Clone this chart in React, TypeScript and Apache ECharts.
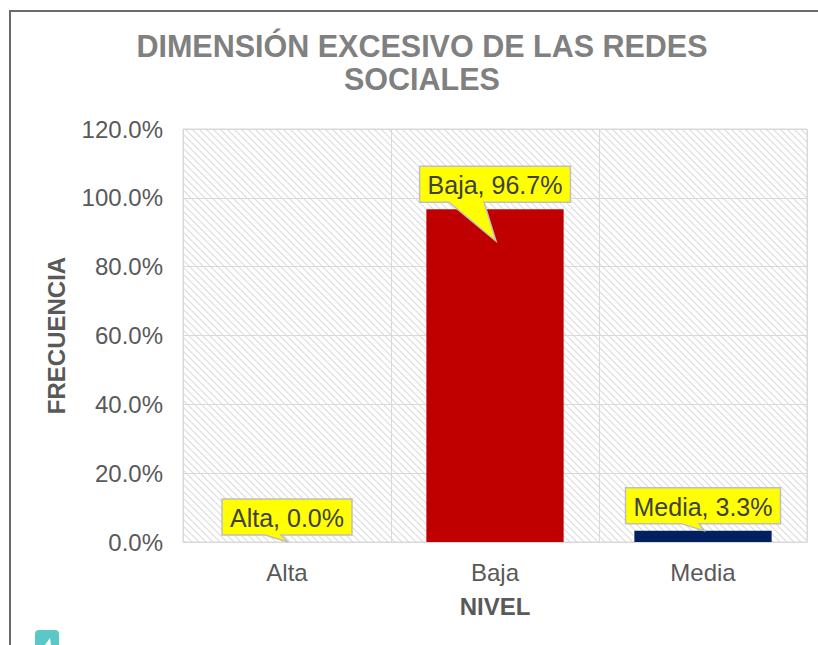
import React, { useEffect, useRef } from "react";
import * as echarts from "echarts";

// ---- data ----
const categories = ["Alta", "Baja", "Media"];
const values = [0.0, 96.7, 3.3];
const barColors = ["#4472C4", "#C00000", "#002060"];
const yMin = 0;
const yMax = 120;
const yInterval = 20;
const titleLines = ["DIMENSIÓN EXCESIVO DE LAS REDES", "SOCIALES"];
const xAxisTitle = "NIVEL";
const yAxisTitle = "FRECUENCIA";

// ---- callout layout (pixels relative to the data point) ----
const CALLOUT_TIP_DY = [0, 32, 0];
const CALLOUT_BASE = [
  [-22, -6],
  [-46, -11],
  [-22, -4],
];

const FONT = '"Liberation Sans", Arial, Helvetica, sans-serif';

function makeHatch(): HTMLCanvasElement {
  const c = document.createElement("canvas");
  const s = 7;
  c.width = s;
  c.height = s;
  const ctx = c.getContext("2d")!;
  ctx.fillStyle = "#ffffff";
  ctx.fillRect(0, 0, s, s);
  ctx.strokeStyle = "#dcdcdc";
  ctx.lineWidth = 1.1;
  ctx.beginPath();
  ctx.moveTo(-2, -2);
  ctx.lineTo(s + 2, s + 2);
  ctx.moveTo(-2, s - 2);
  ctx.lineTo(2, s + 2);
  ctx.moveTo(s - 2, -2);
  ctx.lineTo(s + 2, 2);
  ctx.stroke();
  return c;
}

export default function App() {
  const ref = useRef<HTMLDivElement>(null);

  useEffect(() => {
    if (!ref.current) return;
    const chart = echarts.init(ref.current, undefined, { renderer: "svg" });
    const measureCanvas = document.createElement("canvas");
    const mctx = measureCanvas.getContext("2d")!;
    mctx.font = `25px ${FONT}`;

    const calloutData = values.map((v, i) => [i, v]);

    const option: any = {
      animation: false,
      backgroundColor: "#ffffff",
      grid: {
        left: 183,
        right: 11,
        top: 129,
        bottom: 103,
        show: true,
        borderColor: "#d9d9d9",
        borderWidth: 1,
        backgroundColor: { image: makeHatch(), repeat: "repeat" },
      },
      xAxis: {
        type: "category",
        data: categories,
        name: xAxisTitle,
        nameLocation: "middle",
        nameGap: 52,
        nameTextStyle: { fontFamily: FONT, fontSize: 24, fontWeight: "bold", color: "#595959" },
        axisLine: { show: true, lineStyle: { color: "#d9d9d9", width: 1 } },
        axisTick: { show: false },
        axisLabel: { fontFamily: FONT, fontSize: 24, color: "#595959", margin: 18 },
        splitLine: { show: true, interval: 0, lineStyle: { color: "#d9d9d9", width: 1 } },
      },
      yAxis: {
        type: "value",
        min: yMin,
        max: yMax,
        interval: yInterval,
        name: yAxisTitle,
        nameLocation: "middle",
        nameGap: 115,
        nameTextStyle: { fontFamily: FONT, fontSize: 24, fontWeight: "bold", color: "#595959" },
        axisLine: { show: false },
        axisTick: { show: false },
        axisLabel: {
          fontFamily: FONT,
          fontSize: 24,
          color: "#595959",
          margin: 20,
          formatter: (v: number) => v.toFixed(1) + "%",
        },
        splitLine: { show: true, lineStyle: { color: "#d9d9d9", width: 1 } },
      },
      series: [
        {
          type: "bar",
          data: values.map((v, i) => ({ value: v, itemStyle: { color: barColors[i] } })),
          barCategoryGap: "34%",
          z: 2,
        },
        {
          type: "custom",
          coordinateSystem: "cartesian2d",
          data: calloutData,
          encode: { x: 0, y: 1 },
          clip: false,
          z: 5,
          renderItem: (params: any, api: any) => {
            const i = api.value(0);
            const v = api.value(1);
            const pt = api.coord([i, v]);
            const ax = pt[0];
            const ay = pt[1];
            const text = `${categories[i]}, ${Number(v).toFixed(1)}%`;
            const w = mctx.measureText(text).width + 16;
            const h = 36;
            const B = ay - 7;
            const T = B - h;
            const L = ax - w / 2;
            const R = ax + w / 2;
            const base = CALLOUT_BASE[i];
            const tipX = ax + 1;
            const tipY = ay + CALLOUT_TIP_DY[i];
            const points = [
              [L, T],
              [R, T],
              [R, B],
              [ax + base[1], B],
              [tipX, tipY],
              [ax + base[0], B],
              [L, B],
            ];
            return {
              type: "group",
              children: [
                {
                  type: "polygon",
                  shape: { points },
                  style: { fill: "#FFFF00", stroke: "#BFBFBF", lineWidth: 1.5 },
                },
                {
                  type: "text",
                  style: {
                    text,
                    x: ax,
                    y: (T + B) / 2 + 1,
                    align: "center",
                    verticalAlign: "middle",
                    fontSize: 25,
                    fontFamily: FONT,
                    fill: "#404040",
                  },
                },
              ],
            };
          },
        },
      ],
      graphic: [
        {
          type: "rect",
          shape: { x: 10, y: 11, width: 900, height: 700 },
          style: { fill: "none", stroke: "#6b6b6b", lineWidth: 2 },
          silent: true,
        },
        {
          type: "text",
          style: {
            text: titleLines[0],
            x: 422,
            y: 46,
            align: "center",
            verticalAlign: "middle",
            fontSize: 30.5,
            fontWeight: "bold",
            fontFamily: FONT,
            fill: "#808080",
          },
        },
        {
          type: "text",
          style: {
            text: titleLines[1],
            x: 422,
            y: 79,
            align: "center",
            verticalAlign: "middle",
            fontSize: 30.5,
            fontWeight: "bold",
            fontFamily: FONT,
            fill: "#808080",
          },
        },
        {
          type: "rect",
          shape: { x: 35, y: 630, width: 24, height: 22, r: 4 },
          style: { fill: "#5BC8C8" },
          silent: true,
        },
        {
          type: "polygon",
          shape: { points: [[45, 645], [50, 638], [51, 645]] },
          style: { fill: "#ffffff" },
          silent: true,
        },
      ],
    };

    chart.setOption(option);
    return () => chart.dispose();
  }, []);

  return (
    <div
      ref={ref}
      style={{ position: "absolute", left: 0, top: 0, width: 818, height: 645 }}
    />
  );
}
